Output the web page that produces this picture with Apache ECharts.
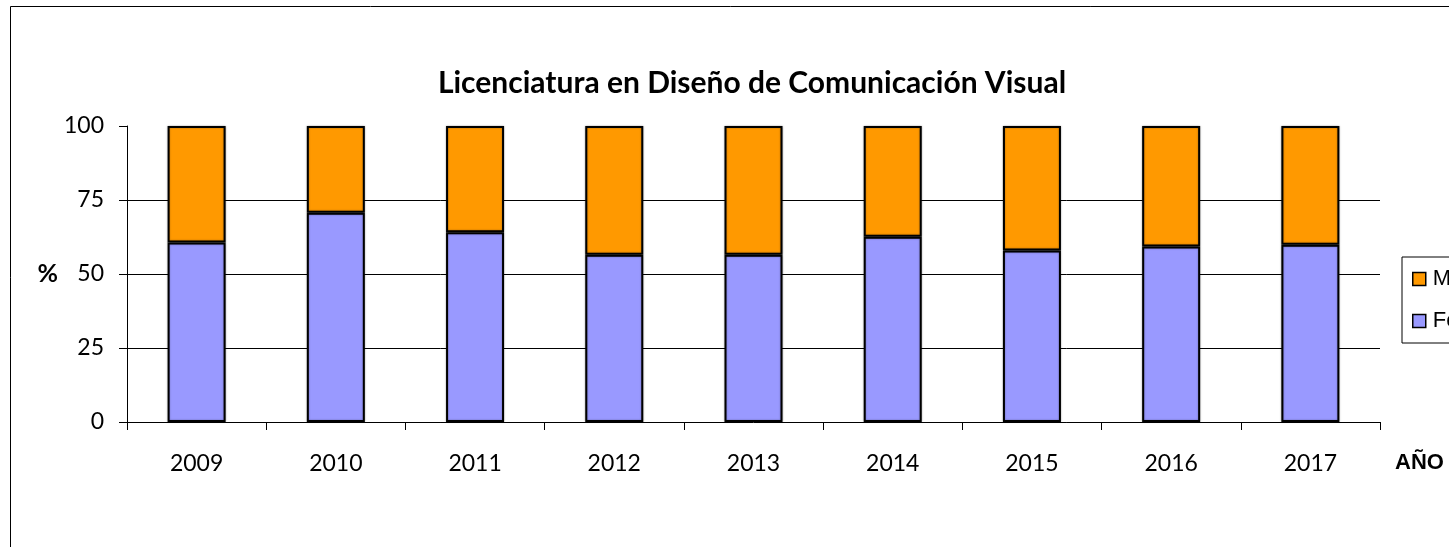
<!DOCTYPE html>
<html>
<head>
<meta charset="utf-8">
<script src="https://cdn.jsdelivr.net/npm/echarts@6/dist/echarts.min.js"></script>
<style>
  html, body { margin: 0; padding: 0; background: #fff; }
  #chart { width: 1449px; height: 547px; }
</style>
</head>
<body>
<div id="chart"></div>
<script>
// datos
var years = ['2009', '2010', '2011', '2012', '2013', '2014', '2015', '2016', '2017'];
var femenino = [60.6, 70.7, 64.1, 56.5, 56.5, 62.6, 57.9, 59.3, 59.9];
var masculino = [39.4, 29.3, 35.9, 43.5, 43.5, 37.4, 42.1, 40.7, 40.1];
var yTicks = [0, 25, 50, 75, 100];

var chart = echarts.init(document.getElementById('chart'), null, { renderer: 'canvas' });

var barStyle = function (color) {
  return {
    color: color,
    borderColor: '#000',
    borderWidth: 2,
    shadowColor: 'rgba(0,0,0,0.35)',
    shadowBlur: 2
  };
};

var option = {
  backgroundColor: '#fff',
  animation: false,
  title: {
    text: 'Licenciatura en Diseño de Comunicación Visual',
    left: 752,
    top: 68,
    padding: 0,
    textAlign: 'center',
    textStyle: {
      fontFamily: 'Lato',
      fontWeight: 'bold',
      fontSize: 30,
      color: '#000'
    }
  },
  // marco exterior del grafico
  graphic: [{
    type: 'rect',
    shape: { x: 10.5, y: 6.5, width: 1500, height: 600 },
    style: { fill: 'none', stroke: '#000', lineWidth: 1 },
    silent: true,
    z: -10
  }],
  legend: {
    data: ['Masculino', 'Femenino'],
    orient: 'vertical',
    left: 1402,
    top: 257,
    padding: [11, 8, 11, 10],
    itemGap: 20,
    itemWidth: 13,
    itemHeight: 13,
    icon: 'rect',
    borderColor: '#000',
    borderWidth: 1,
    itemStyle: { borderWidth: 1.5, shadowBlur: 0 },
    textStyle: {
      fontFamily: 'Liberation Sans',
      fontSize: 22,
      color: '#000',
      padding: [0, 0, 0, 2]
    }
  },
  grid: {
    left: 127,
    right: 69,
    top: 126,
    bottom: 125
  },
  xAxis: {
    type: 'category',
    data: years,
    name: 'AÑO',
    nameLocation: 'end',
    nameGap: 15,
    nameTextStyle: {
      fontFamily: 'Liberation Sans',
      fontWeight: 'bold',
      fontSize: 22,
      color: '#000',
      verticalAlign: 'top',
      padding: [30, 0, 0, 0]
    },
    axisLine: { lineStyle: { color: '#000', width: 1 } },
    axisTick: { show: true, length: 8, lineStyle: { color: '#000' } },
    axisLabel: {
      margin: 30,
      fontFamily: 'Lato',
      fontSize: 23,
      color: '#000'
    }
  },
  yAxis: {
    type: 'value',
    min: yTicks[0],
    max: yTicks[yTicks.length - 1],
    interval: 25,
    name: '%',
    nameLocation: 'middle',
    nameRotate: 0,
    nameGap: 69,
    nameTextStyle: {
      fontFamily: 'Lato',
      fontWeight: 'bold',
      fontSize: 25,
      color: '#000'
    },
    axisLine: { show: true, lineStyle: { color: '#000', width: 1 } },
    axisTick: { show: true, length: 8, lineStyle: { color: '#000' } },
    axisLabel: {
      margin: 23,
      fontFamily: 'Lato',
      fontSize: 23,
      color: '#000'
    },
    splitLine: {
      show: true,
      showMinLine: false,
      showMaxLine: false,
      lineStyle: { color: '#000', width: 1 }
    }
  },
  series: [{
    name: 'Femenino',
    type: 'bar',
    stack: 'total',
    barWidth: 58,
    data: femenino,
    itemStyle: barStyle('#9999FF')
  }, {
    name: 'Masculino',
    type: 'bar',
    stack: 'total',
    barWidth: 58,
    data: masculino,
    itemStyle: barStyle('#FF9900')
  }]
};

chart.setOption(option);
</script>
</body>
</html>
